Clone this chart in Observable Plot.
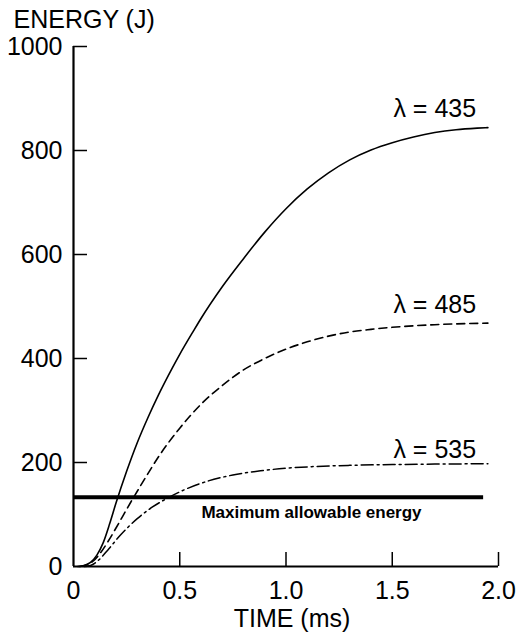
<!DOCTYPE html>
<html><head><meta charset="utf-8">
<script src="https://cdn.jsdelivr.net/npm/d3@7"></script>
<script src="https://cdn.jsdelivr.net/npm/@observablehq/plot@0.6"></script>
<style>body{margin:0;background:#fff}</style>
</head><body><div id="chart"></div>
<script>
// ---- data ----
const xTicks = [0, 0.5, 1.0, 1.5, 2.0];
const xTickLabels = ["0", "0.5", "1.0", "1.5", "2.0"];
const yTicks = [0, 200, 400, 600, 800, 1000];
const yTickLabels = ["0", "200", "400", "600", "800", "1000"];

const time435   = [0.02,0.05,0.08,0.11,0.14,0.17,0.20,0.25,0.30,0.35,0.40,0.464,0.50,0.566,0.60,0.70,0.80,0.90,1.00,1.10,1.20,1.30,1.40,1.50,1.60,1.70,1.80,1.90,1.95];
const energy435 = [0,   2,   8,   22,  46,  82,  122, 183, 238, 286, 330, 381,  408, 454,  477, 538, 592, 643, 688, 726, 757, 782, 801, 815, 826, 834.5,840, 843, 844];

const time485   = [0.03,0.06,0.10,0.13,0.17,0.20,0.27,0.33,0.41,0.50,0.60,0.70,0.80,0.90,1.00,1.10,1.20,1.30,1.40,1.50,1.70,1.95];
const energy485 = [0,   3,   13,  28,  53,  74,  124, 165, 217, 266, 312, 348, 378, 400, 418, 432, 443, 451, 456, 460, 465, 468];

const time535   = [0.05,0.08,0.12,0.16,0.22,0.30,0.37,0.44,0.53,0.63,0.75,0.88,1.00,1.12,1.30,1.50,1.70,1.95];
const energy535 = [0,   2,   13,  31,  60,  92,  114, 131, 149, 164, 176, 184, 189, 192, 194.5,196, 197, 197.5];

const maxEnergy = 133;
const maxEnergySpan = [0, 1.93];

const seriesNames = ["λ = 435", "λ = 485", "λ = 535"];
const labelX = [1.70, 1.70, 1.70];
const labelY = [865, 487, 208];

const xLabel = "TIME (ms)";
const yLabel = "ENERGY (J)";
const maxLabel = "Maximum allowable energy";
const maxLabelX = 1.12;

// ---- build ----
const rows = (t, e) => t.map((x, i) => ({t: x, e: e[i]}));
const W = 528, H = 640, mL = 73, mR = 30, mT = 46, mB = 74;
const frameW = W - mL - mR, frameH = H - mT - mB;
const font = "'Liberation Sans', Arial, Helvetica, sans-serif";

const chart = Plot.plot({
  width: W, height: H,
  marginLeft: mL, marginRight: mR, marginTop: mT, marginBottom: mB,
  style: {fontFamily: font, fontSize: "25px", color: "black", background: "white"},
  x: {domain: [0, 2]},
  y: {domain: [0, 1000]},
  marks: [
    Plot.axisY({ticks: yTicks, tickSize: 0, tickPadding: 11, label: null, fontSize: 25,
                tickFormat: d => yTickLabels[yTicks.indexOf(d)]}),
    Plot.axisX({ticks: xTicks, tickSize: 0, tickPadding: 15, label: null, fontSize: 25,
                tickFormat: d => xTickLabels[xTicks.indexOf(d)]}),
    Plot.tickY(yTicks.slice(1), {y: d => d, insetRight: frameW - 14, stroke: "black", strokeWidth: 1.5}),
    Plot.tickX(xTicks.slice(1), {x: d => d, insetTop: frameH - 14, stroke: "black", strokeWidth: 1.5}),
    Plot.ruleX([xTicks[0]], {y1: yTicks[0], y2: yTicks[yTicks.length - 1], stroke: "black", strokeWidth: 2.2}),
    Plot.ruleY([yTicks[0]], {x1: xTicks[0], x2: xTicks[xTicks.length - 1], stroke: "black", strokeWidth: 2.2}),
    Plot.ruleY([maxEnergy], {x1: maxEnergySpan[0], x2: maxEnergySpan[1], stroke: "black", strokeWidth: 4}),
    Plot.line(rows(time435, energy435), {x: "t", y: "e", stroke: "black", strokeWidth: 1.6, curve: "monotone-x"}),
    Plot.line(rows(time485, energy485), {x: "t", y: "e", stroke: "black", strokeWidth: 1.6, curve: "monotone-x", strokeDasharray: "8,5"}),
    Plot.line(rows(time535, energy535), {x: "t", y: "e", stroke: "black", strokeWidth: 1.5, curve: "monotone-x", strokeDasharray: "12,4,2,4"}),
    Plot.text(seriesNames, {x: (d, i) => labelX[i], y: (d, i) => labelY[i], text: d => d,
      fontSize: 25, lineAnchor: "bottom", textAnchor: "middle", fill: "black"}),
    Plot.text([maxLabel], {x: maxLabelX, y: maxEnergy, text: d => d, dy: 21, lineAnchor: "bottom",
      fontWeight: "bold", fontSize: 17, fill: "black"}),
    Plot.text([yLabel], {frameAnchor: "top-left", text: d => d, dx: -60, dy: -19, lineAnchor: "bottom",
      textAnchor: "start", fontSize: 25, fill: "black"}),
    Plot.text([xLabel], {frameAnchor: "bottom", text: d => d, dx: 6, dy: 60, lineAnchor: "bottom",
      fontSize: 25, fill: "black"})
  ]
});
document.getElementById("chart").appendChild(chart);
</script>
</body></html>
